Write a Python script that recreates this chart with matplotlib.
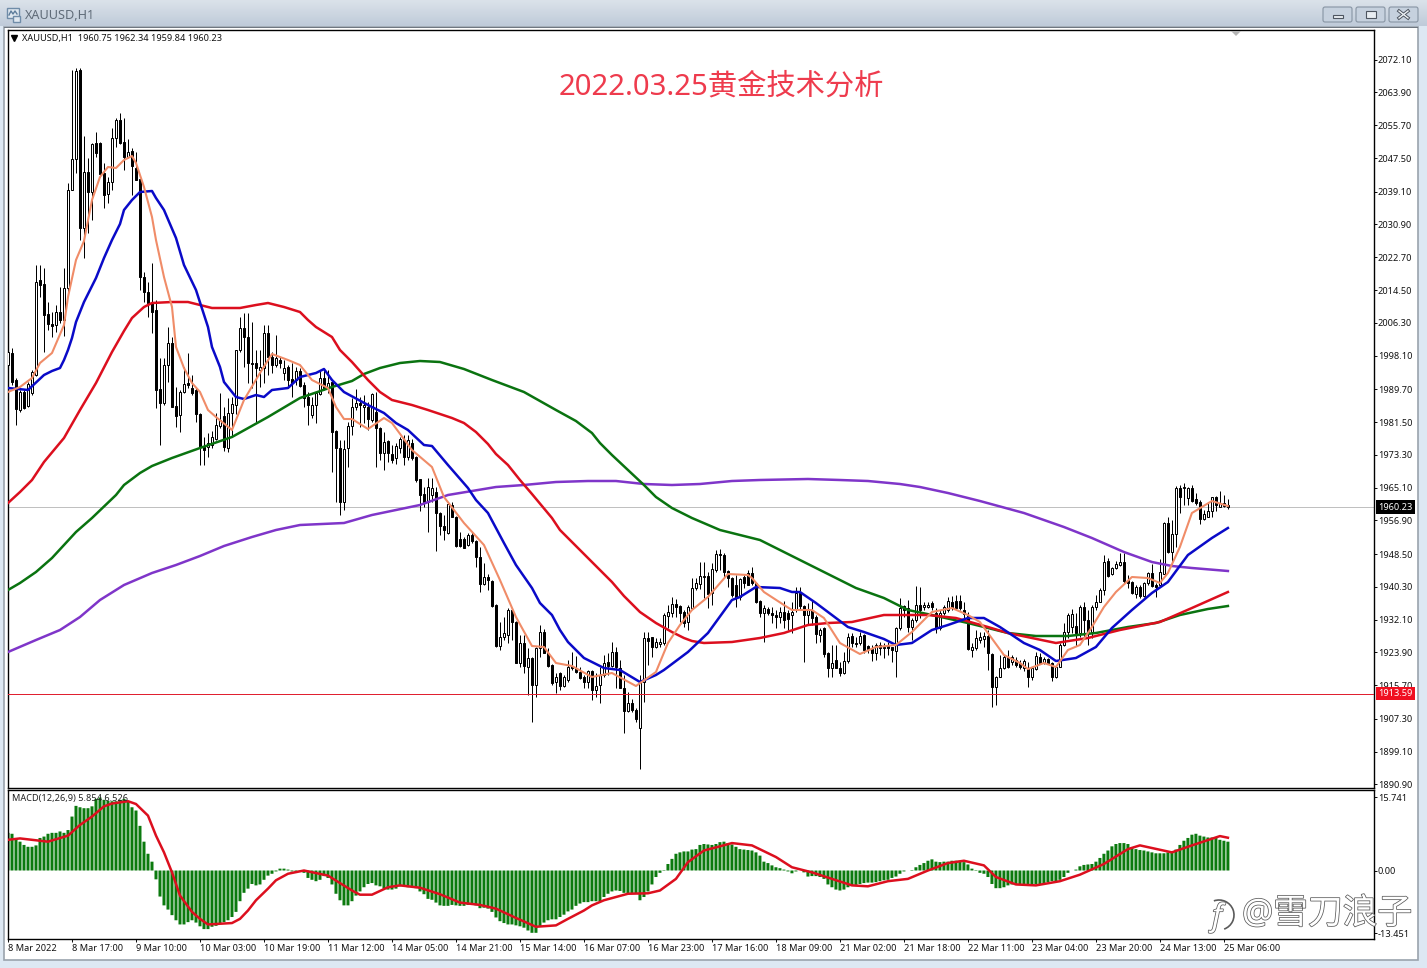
import matplotlib
matplotlib.use("Agg")
import matplotlib.pyplot as plt
import matplotlib.patheffects as pe
from matplotlib.patches import Rectangle, FancyBboxPatch, Arc, Polygon
from matplotlib.transforms import IdentityTransform
import numpy as np

plt.rcParams['font.family'] = ['Noto Sans', 'Noto Sans CJK SC', 'DejaVu Sans']

# hourly bars, one row of ten values per line
opens = [
    1995.8,1998.8,1992,1984.5,1989,1985.5,1988.8,1993.3,2017,2016,
    2008.5,2006,2005.8,2009,2007,2015,2039.5,2047.3,2069.5,2030,
    2044,2039,2051.3,2051.3,2043.8,2038.5,2041.5,2052.5,2057,2051.5,
    2047.8,2049.3,2045,2042.3,2017.8,2014,2011.3,2009.5,1989.8,1986.3,
    1995.8,2001.3,1985.5,1983.3,1989,1991.3,1990,1989.5,1983.5,1975.3,
    1975.3,1975.8,1977.3,1980.5,1983,1975,1983.8,1985.8,1999.5,2005,
    2002.8,1996.3,1996.3,1994.5,1995,2003.8,1997.8,1995.8,1997,1993.8,
    1995.3,1992.3,1992,1994.3,1990.8,1987.8,1983.3,1985.8,1988.5,1992.5,
    1990,1991.5,1979.3,1975,1961.5,1975,1980.5,1985.3,1986.3,1985.3,
    1985.3,1982,1984,1980,1973.8,1976.8,1973.5,1972.5,1975,1977,
    1972.8,1976.3,1972.8,1967.3,1963.5,1961.5,1963.3,1964,1958.8,1955.5,
    1953.8,1960.8,1957.8,1952.3,1952.3,1950.8,1953.3,1951.8,1947.8,1941,
    1942.8,1941.8,1935.8,1925.5,1927.8,1928.3,1934.5,1931.5,1921.3,1926.3,
    1920.3,1922.5,1915.8,1925,1929,1923.8,1920.8,1916.5,1918.8,1915.5,
    1917,1920.5,1920,1919,1917.8,1916.5,1919.3,1914.5,1915.8,1918.3,
    1921.5,1920.5,1924,1920,1915,1909.3,1911.3,1909.5,1905,1916.5,
    1927.5,1927.8,1925.3,1926,1926.3,1933,1933.8,1936,1935.5,1934,
    1931.5,1935,1940,1941,1942.8,1943,1938.8,1944.5,1948.5,1948.3,
    1944.3,1942.5,1940.8,1937.8,1942.8,1943.8,1943.8,1941.3,1936.8,1933.8,
    1934.8,1933.8,1933.3,1932.8,1934,1933.8,1933.3,1934.5,1938.8,1935.5,
    1933.3,1934.5,1932.8,1928.3,1930,1923.8,1920,1922,1920,1918.8,
    1921.8,1928,1926.3,1926.3,1928.3,1925.5,1924.8,1923.8,1925.8,1925.3,
    1925.5,1925.3,1924.3,1930,1935.5,1935,1930.3,1932,1935.8,1935.3,
    1935.3,1936.3,1933.8,1930,1933.8,1934.5,1936.5,1936.8,1936.8,1934.5,
    1933,1924.5,1925,1927,1927.3,1928,1923.5,1915.3,1917.8,1920,
    1922.8,1921.5,1922,1921.3,1920,1920,1917.8,1919.8,1922.8,1921.3,
    1922.3,1921.3,1917.8,1920.3,1925.8,1929,1930.3,1930.5,1928.8,1935.3,
    1932,1929,1935.3,1936.5,1939.5,1946.8,1943.5,1945,1945.8,1946.5,
    1942,1941.5,1938.5,1940.3,1938,1941.3,1943.8,1940.8,1940.8,1943.5,
    1956.3,1949,1953.5,1965,1965,1962.5,1965,1962.3,1961.5,1957.3,
    1957.8,1959.3,1962.8,1960.3,1960.5,1960.75,
]
highs = [
    2000,2000,1992.5,1989.5,1989.5,1991.5,1994.5,2020.8,2020.8,2020,
    2011.5,2009,2010.8,2015.3,2020,2041.3,2069.5,2070,2070,2053,
    2047.5,2051.3,2054,2051.5,2046.3,2042.8,2055,2057.5,2058.8,2057.5,
    2052.3,2050,2049,2042.3,2019,2016.5,2021.3,2012,1997.5,1997.5,
    2005.3,2002.8,1990.3,1989.5,1995.3,1998.8,1993.3,1990,1983.8,1977.8,
    1978.8,1979.3,1983.8,1988.8,1985.3,1987.5,1987.8,1999.5,2007.8,2008.8,
    2008.8,2006.5,1999.5,1999.5,2005.8,2005.8,1999,2003.3,1997.8,1997,
    1995.8,1996.3,1995.3,1995,1991.5,1989,1987.8,1989,1994.5,1994.8,
    1994.5,1991.8,1979.5,1977,1977,1981.5,1987.5,1989.8,1987.8,1988.3,
    1986.5,1988.8,1989,1980.3,1979,1977,1975.8,1976.3,1977.8,1978.3,
    1978.3,1977.3,1973,1967.3,1965.3,1967.5,1967.5,1965.3,1959,1958.3,
    1961.3,1961.5,1958,1954,1952.8,1953.8,1954,1952,1950.3,1946.3,
    1943.5,1942,1936,1931.5,1932.8,1935,1935,1931.8,1928.3,1928.3,
    1925,1922.8,1925.3,1930.8,1929.8,1925,1921,1918.8,1919,1918.3,
    1922,1924,1923,1920.3,1918.3,1919.5,1919.5,1918.8,1920.3,1923.3,
    1923.8,1926.5,1925.3,1922,1918.3,1914,1912.3,1910,1918.3,1929,
    1929,1927.8,1927.5,1927.5,1933.8,1935.8,1937.8,1937.3,1935.8,1934.5,
    1935.8,1942.5,1942.5,1946.5,1946.5,1944,1946.3,1949.5,1949.8,1948.8,
    1944.5,1942.8,1943.3,1942.5,1943.3,1944.5,1945.3,1941.5,1937,1935.8,
    1935.3,1935.3,1934.5,1935.3,1936.8,1934.5,1936.5,1940.3,1940.3,1935.8,
    1936.3,1937,1933.3,1930,1930.3,1924,1925.8,1925.8,1921.5,1924,
    1928.8,1928.8,1927.8,1929,1928.5,1925.8,1925.8,1926.3,1926.5,1926.3,
    1926.5,1925.3,1930.3,1937.5,1935.8,1937,1932.5,1940.5,1940.3,1936.5,
    1936.5,1936.8,1935,1934.5,1935.8,1937.8,1938,1938.3,1938.3,1936.5,
    1934,1926.3,1929.5,1929,1929,1929.5,1923.8,1918,1923.3,1923.3,
    1924.5,1923.3,1922.8,1922,1922.3,1921.5,1920.3,1924,1923.8,1922.8,
    1922.5,1921.5,1920.8,1926.3,1931.3,1933.8,1934.8,1933.8,1935.8,1936.5,
    1934.5,1935.8,1938.3,1940,1948.3,1947.5,1945.3,1946.8,1948.8,1948.8,
    1943.3,1941.8,1940.8,1940.8,1941.5,1944,1946,1941.3,1947.3,1956.5,
    1957.8,1957,1965.5,1965.8,1966.3,1965.3,1965.8,1963.8,1962,1959.5,
    1961.3,1962.8,1963,1964.3,1963.3,1962.34,
]
lows = [
    1995,1990.8,1980.8,1984,1984.8,1985.3,1988.3,1993,2012.8,1999,
    2004.5,2002.8,2004,2006.3,2003,2013.3,2039.5,2043.8,2027,2022.5,
    2028.8,2032,2047.8,2042.8,2035,2036.3,2039.5,2050.3,2051,2044.5,
    2047.5,2038.3,2042,2014.5,2011.5,2007.8,2003.8,1985,1975.8,1985.8,
    1991.5,1985.3,1980.3,1979,1988.8,1990,1988.3,1981.5,1970.8,1970.8,
    1972.8,1975,1977,1980,1974.3,1974,1977.8,1983.5,1999,1995.3,
    1991.3,1990,1981.5,1990.3,1991.3,1993.3,1993.8,1995.3,1995,1992,
    1990,1987.8,1990.8,1990.3,1985.3,1980.8,1982.5,1981.3,1988.3,1989.5,
    1988.8,1969,1961.5,1958.3,1959.5,1970.3,1978.3,1984.5,1980.3,1981.3,
    1979.5,1981.5,1970.3,1972,1969.5,1971.5,1971.3,1971,1973.8,1970.8,
    1972,1972,1966.5,1959.3,1960.3,1954,1961.5,1949.3,1953.3,1952,
    1953.5,1957.8,1950.3,1950.3,1950,1950.5,1951.3,1945.3,1939,1940.8,
    1939.5,1935.3,1925.3,1924.5,1927,1926.3,1927,1921.3,1920.3,1918.8,
    1913.3,1906.5,1912.8,1922.8,1923.8,1920.3,1915.8,1913.8,1914.5,1915.3,
    1916.5,1919.5,1918.8,1917.3,1915,1915,1912,1912.8,1911.3,1917.8,
    1918.3,1920.3,1915,1915,1903.8,1909,1909,1906.5,1894.8,1911.5,
    1920.8,1922.8,1925,1925.3,1925.8,1930,1932.8,1932.8,1931.5,1930.3,
    1929.5,1935,1939.5,1939.8,1937.5,1935,1935.8,1944,1944.5,1942.8,
    1940.3,1937.8,1935.3,1937,1940,1940.8,1940.8,1936.3,1932.8,1926.5,
    1933.3,1931.3,1930,1931.3,1930,1929.5,1928.8,1934,1934.5,1921.5,
    1931,1930.8,1926.3,1926.5,1922.8,1917.8,1917.8,1920,1918,1918.5,
    1921.3,1925.3,1925.3,1925.8,1923.8,1923.8,1921.8,1922,1923.3,1922.5,
    1923.3,1921.5,1917.8,1929.5,1932.8,1929,1927,1931.5,1932.5,1934.5,
    1935,1934.5,1928.8,1929.5,1933.3,1934,1934.5,1934.5,1934.5,1932,
    1924.5,1922.8,1924.5,1926.3,1925.3,1919.5,1910.3,1910.8,1917.8,1919.8,
    1920,1920.8,1920.3,1919.8,1919.3,1915.3,1917,1919.5,1921,1921,
    1921,1916.8,1917.5,1920.3,1925.5,1927.5,1928.8,1925.5,1927.8,1927.5,
    1925.8,1927.5,1934.5,1936.5,1938.3,1942.8,1943.3,1944.8,1945.5,1941.3,
    1940,1938.5,1937.5,1937.5,1937.8,1940.8,1940.3,1937.8,1940.5,1943.5,
    1948.8,1945.8,1950.3,1958.8,1960.8,1960.8,1961.5,1960.8,1956,1957,
    1957.8,1957.8,1959.3,1960.3,1960.3,1959.84,
]
closes = [
    1999,1991.5,1984.8,1989,1985,1991,1994,2016.5,2015.8,2008.3,
    2006,2005.5,2009,2007,2015,2039.5,2047.3,2069.3,2030,2044,
    2039,2051,2048.8,2043.5,2038.3,2041.5,2052.5,2057,2051.3,2047.8,
    2049,2045.5,2042,2017.8,2014,2011.3,2009,1989.5,1986.3,1995.8,
    2001.3,1985.3,1983,1989,1991,1990.8,1988.8,1983.5,1975.3,1974.5,
    1976.3,1977.8,1980.8,1982,1975.3,1983.8,1986,1999.5,2005,2002.8,
    1996.3,1996,1995,1995.3,2003.8,1997.8,1995.8,1997.5,1996.3,1995,
    1992,1991.3,1994.3,1990.5,1987.5,1985.8,1985.8,1988.8,1992.5,1990,
    1991.3,1979,1975,1961.5,1974.8,1980.5,1985.3,1986.3,1985.8,1985.8,
    1982.3,1988.5,1980,1973.8,1976.5,1973.8,1972,1975.5,1977.3,1972.8,
    1977,1972.5,1967,1963.3,1961.5,1965.3,1965,1958.8,1955.5,1954.5,
    1961,1957.8,1950.5,1950.5,1950,1953.3,1951.8,1947.8,1941,1942.8,
    1942,1935.5,1925.5,1927.8,1928.8,1934.5,1931.5,1921.3,1926.3,1920.5,
    1922.5,1915.8,1925,1929,1923.8,1920.5,1916.3,1917.8,1915.5,1917.8,
    1920.3,1920,1919,1917.5,1916.5,1919.3,1914.5,1915.5,1918.3,1921.3,
    1920.5,1924,1920.3,1915,1909.3,1911.3,1909.5,1907.3,1916.5,1927.5,
    1926.8,1925.3,1926.5,1926.5,1933.3,1934,1936,1935.3,1933.8,1931.3,
    1935.3,1940,1941.3,1943,1943,1938.5,1944.8,1948.5,1948.3,1944,
    1942.5,1938.3,1937.5,1942.3,1941.3,1940.8,1941.3,1936.5,1933.8,1935,
    1933.8,1933.3,1932.8,1934,1932,1932.3,1934,1938.8,1935.5,1933.3,
    1934.5,1932.5,1928.5,1929.5,1923.5,1920,1921.3,1920,1918.8,1921.8,
    1927.8,1926.3,1926,1928,1924.5,1924.8,1923.8,1925.8,1925,1925,
    1925,1924.5,1930,1935,1934.5,1930.3,1932,1935.8,1934.5,1935.8,
    1935.8,1935.3,1930,1933.8,1935.3,1936.8,1935,1935,1935,1933.5,
    1924.8,1925.3,1927.5,1927.8,1928,1923.8,1915.3,1917.8,1920,1922.8,
    1920.3,1922.8,1920.8,1920.3,1921.8,1917.8,1920,1923,1921.3,1922.3,
    1921.3,1917.8,1920.3,1925.8,1929,1933.3,1933.5,1928.8,1935.3,1932,
    1929,1935.3,1936.5,1939.5,1946.5,1943,1945,1946,1946.5,1941.8,
    1941.3,1938.8,1940.3,1938,1941.3,1943.8,1940.5,1940.3,1944,1956.3,
    1949,1953.5,1965,1962.8,1965.3,1965,1961.8,1961.3,1957.3,1958.5,
    1959.3,1962.8,1960.8,1961.3,1961.3,1960.23,
]

fast_bars = [0,3,6,8,11,14,15,17,19,21,23,25,27,29,31,32,34,36,37,39,41,42,44,46,48,50,52,56,59,63,66,70,73,76,80,82,84,86,90,94,96,101,106,109,114,119,123,127,131,134,137,141,146,151,157,162,165,168,171,175,180,185,186,189,194,196,201,204,208,213,217,222,226,231,236,240,243,245,249,253,255,259,262,265,268,271,274,277,281,285,288,290,293,296,301,305]
fast_ma = [1989,1990.25,1992.5,1996.25,1998.75,2005.75,2012.75,2022,2026.75,2037,2042.75,2045.25,2045,2047,2048,2046.25,2040.25,2032.75,2027,2017.75,2010.25,2000.25,1995,1991.25,1989,1984.5,1982.75,1979.5,1987,1993.75,1998.5,1997,1995.75,1992,1990,1985.25,1982.25,1982.25,1979.75,1982.5,1981.25,1974.5,1970.25,1962.75,1956.25,1950.75,1942,1932.75,1925.5,1925.25,1921.25,1920.5,1917.75,1918.75,1915.5,1919,1926.25,1930.75,1934.5,1937.75,1943.5,1943.25,1942.5,1939,1935.75,1934.5,1934.5,1932.5,1926.25,1923.5,1925.25,1925.75,1929,1934,1935,1933.25,1931.5,1928.75,1923.25,1921.25,1919.75,1921.25,1920.25,1924.5,1925.75,1930.25,1935.25,1939,1942.75,1942.5,1941.25,1943.75,1950.25,1958.75,1961.75,1960.5]

blue_bars = [0,5,9,11,13,14,15,16,17,19,22,24,26,28,29,31,33,36,37,39,42,44,47,50,51,53,54,56,57,59,62,64,66,70,73,77,79,81,84,90,94,97,100,104,106,110,115,117,120,122,124,127,131,133,136,138,140,142,144,149,153,158,162,164,170,175,181,183,187,193,196,198,202,205,210,214,219,222,226,231,235,240,244,248,254,258,262,267,272,276,281,286,290,295,301,305]
blue_ma = [1990,1989.5,1993.25,1994.25,1995,1997,1999.5,2002.5,2006.5,2011.5,2017.5,2022.5,2027,2031,2034.5,2037,2039,2039.25,2037.5,2034.5,2027.5,2020.75,2014.5,2005.25,2000.25,1995.25,1991.5,1989,1987.75,1987.25,1988.25,1987.75,1989.5,1990,1992.75,1993.75,1994.75,1992,1989,1985.75,1983.75,1981.25,1979.5,1975.75,1975.5,1970.75,1965,1962,1958.75,1955,1951.25,1945.75,1940,1936.25,1933.25,1929.5,1926.5,1924.5,1922.5,1920,1919.5,1916.5,1918.25,1919.5,1924,1928.75,1937,1937.75,1940.25,1940,1939,1939,1936.25,1934,1930.25,1929,1927.25,1925.75,1926.25,1929.5,1930.75,1932.5,1932.5,1930.25,1926.25,1924.5,1921.75,1922.5,1925.25,1930,1934.5,1938.75,1941.5,1948.25,1952.5,1955]

red_bars = [0,3,6,9,14,18,22,26,29,31,34,36,41,45,48,51,58,62,65,69,73,75,77,81,83,86,90,93,96,101,105,111,114,117,120,122,125,128,131,136,138,141,145,147,151,154,158,162,166,169,171,174,181,188,194,200,205,211,219,230,237,245,250,262,270,278,288,296,305]
red_ma = [1961.25,1964,1967,1971.5,1977.5,1984.5,1991.25,1999,2004.25,2007.5,2010.25,2011.25,2011.5,2011.5,2010.75,2010,2010,2010.75,2011.25,2010.25,2009,2007,2005.25,2002.75,1999.5,1996.5,1992,1989,1987,1985.75,1984.5,1982.5,1981.25,1979,1976,1973.5,1970.75,1967,1963.5,1957.5,1954.5,1951.5,1947.5,1945.5,1941.5,1938,1934,1931.25,1929,1927.5,1926.75,1926.25,1926.5,1927.5,1928.75,1930.75,1931.25,1931.5,1933.25,1933.25,1932.5,1930.25,1928.75,1926.25,1927.5,1929.5,1931.5,1935,1939]

green_bars = [0,3,7,11,14,17,21,27,29,33,36,41,48,56,65,73,81,86,89,93,98,103,108,114,121,129,133,137,142,146,148,151,155,159,162,166,171,178,188,194,202,212,219,225,231,240,245,250,257,265,272,280,287,293,300,305]
green_ma = [1939.5,1941.25,1944,1947.5,1950.75,1954,1957.5,1963.25,1965.75,1968.75,1970.5,1972.5,1975,1977.75,1982.75,1987.5,1990.25,1991.75,1993.5,1995,1996.25,1996.75,1996.5,1994.75,1992,1989,1986.75,1984.5,1981.75,1978.75,1976.25,1973.25,1969.5,1965.75,1962.75,1960,1957.5,1954.5,1952,1949,1945,1940,1937.5,1934.5,1933.25,1931.25,1930,1928.75,1928,1928,1928.75,1930.25,1931.25,1933.25,1934.75,1935.5]

purple_bars = [0,7,13,18,23,29,36,42,48,54,61,67,73,84,91,97,103,110,116,122,129,137,145,152,159,166,173,181,188,200,208,215,223,228,235,243,254,264,271,279,286,291,296,305]
purple_ma = [1924,1927,1929.5,1932.75,1937,1940.75,1943.75,1945.75,1948,1950.5,1952.75,1954.5,1955.75,1956.25,1958.25,1959.5,1960.75,1963.25,1964.25,1965.25,1965.75,1966.5,1966.75,1966.75,1966,1965.75,1966,1966.75,1967,1967.25,1967,1966.75,1966,1965.25,1963.75,1961.75,1958.75,1955.25,1952.5,1949,1946.5,1945.5,1945,1944.25]

macd_hist = [
    8.1,7.9,6.9,6.2,5.5,5.1,5.1,5.4,7.0,7.3,
    7.9,8.1,8.1,8.4,8.1,8.7,11.6,13.9,13.6,13.4,
    13.4,13.8,15.4,15.7,15.2,15.0,14.9,14.9,15.2,15.4,
    14.9,13.6,12.9,9.6,6.2,3.6,1.9,-1.9,-5.6,-7.5,
    -8.4,-9.6,-10.7,-11.6,-11.6,-11.1,-10.7,-11.2,-12.0,-12.6,
    -12.6,-12.1,-11.9,-11.4,-11.1,-10.7,-10.0,-8.9,-6.6,-4.8,
    -3.9,-2.9,-3.2,-3.0,-2.0,-1.1,-0.7,-0.2,0.4,0.4,
    0.2,-0.2,-0.5,-0.2,-0.5,-1.6,-2.0,-2.3,-2.0,-1.2,
    -1.6,-3.0,-5.0,-6.4,-7.5,-7.5,-6.6,-5.4,-4.5,-3.6,
    -2.9,-2.7,-3.2,-3.4,-3.9,-4.1,-4.1,-3.9,-3.4,-3.4,
    -3.6,-3.6,-3.8,-4.5,-5.1,-6.1,-6.3,-6.9,-7.5,-7.6,
    -7.6,-7.4,-7.5,-7.6,-7.6,-7.4,-7.1,-7.5,-8.1,-8.0,
    -8.2,-8.9,-10.1,-10.9,-11.3,-11.6,-11.6,-11.8,-12.0,-12.3,
    -12.9,-13.4,-13.4,-12.1,-11.2,-10.7,-10.5,-10.5,-10.0,-9.5,
    -8.8,-8.4,-7.6,-7.1,-6.8,-6.8,-6.6,-6.6,-6.6,-5.7,
    -5.0,-4.5,-4.3,-4.4,-4.8,-5.0,-5.0,-5.0,-6.4,-5.7,
    -4.5,-3.0,-1.4,-0.5,0.1,1.4,2.5,3.6,3.9,4.1,
    4.1,4.5,4.6,5.5,5.7,5.6,5.5,5.7,6.1,6.2,
    5.9,5.6,5.1,4.6,4.5,4.4,4.3,3.9,3.2,1.9,
    1.6,1.1,0.7,0.5,0.2,-0.2,-0.6,-0.2,0.0,-0.4,
    -1.3,-1.2,-1.2,-1.4,-1.8,-3.0,-3.6,-4.1,-4.3,-4.1,
    -3.6,-3.2,-3.1,-2.9,-2.7,-2.6,-2.6,-2.5,-2.3,-2.1,
    -2.0,-1.6,-1.3,-0.7,-0.2,0.0,0.1,0.7,1.2,1.6,
    2.1,2.4,1.9,1.8,1.9,1.9,2.1,2.1,2.1,1.8,
    1.3,0.4,-0.1,-0.5,-0.7,-1.4,-2.9,-3.8,-3.8,-3.6,
    -3.2,-3.0,-2.9,-2.9,-2.9,-2.9,-2.9,-2.9,-2.9,-2.9,
    -2.5,-2.3,-2.3,-2.0,-1.4,-0.5,0.0,0.2,0.9,1.2,
    1.3,1.4,1.9,2.7,3.6,4.3,5.2,5.7,5.9,5.9,
    5.7,5.0,4.6,4.4,4.3,4.1,3.9,3.7,3.7,3.7,
    3.9,4.1,4.5,5.5,6.4,7.0,7.7,7.9,7.5,7.3,
    7.1,7.1,7.0,6.6,6.4,6.2,
]
signal_bars = [0,3,6,10,15,18,21,24,26,30,32,35,37,39,41,43,46,48,50,56,58,60,62,65,67,70,74,80,86,88,91,95,98,103,108,113,118,122,127,132,137,140,144,146,149,155,160,163,167,170,174,178,181,186,192,196,201,206,211,215,220,225,230,235,239,244,247,252,257,263,268,274,280,283,291,296,303,305]
signal_line = [6.6,6.9,6.6,6.2,7.5,9.8,11.6,13.8,14.4,14.9,14.3,11.8,7.5,3.9,-0.4,-5.4,-8.9,-10.4,-11.6,-11.3,-10.4,-8.6,-6.4,-3.9,-2.1,-0.7,0,-1.1,-4.3,-5.2,-5.2,-3.6,-3.2,-3.7,-5.1,-6.9,-7.4,-8.2,-10.2,-12.1,-11.8,-10.4,-8.6,-7.5,-6.4,-5,-4.9,-4.3,-1.8,1.8,4.3,5.2,5.9,5.4,2.9,0.7,-0.4,-1.8,-3.2,-3.4,-2.3,-1.8,0,1.6,2.1,1.1,-1.4,-3,-3.2,-2.3,-0.9,1.4,4.6,5.4,3.9,5.4,7.4,7.05]

price_ticks = [2072.10,2063.90,2055.70,2047.50,2039.10,2030.90,2022.70,2014.50,2006.30,1998.10,1989.70,1981.50,1973.30,1965.10,1956.90,1948.50,1940.30,1932.10,1923.90,1915.70,1907.30,1899.10,1890.90]
macd_ticks = [15.741, 0.0, -13.451]
macd_tick_labels = ["15.741", "0.00", "-13.451"]
time_ticks = list(range(0, 305, 16))
time_labels = ["8 Mar 2022","8 Mar 17:00","9 Mar 10:00","10 Mar 03:00","10 Mar 19:00","11 Mar 12:00","14 Mar 05:00","14 Mar 21:00","15 Mar 14:00","16 Mar 07:00","16 Mar 23:00","17 Mar 16:00","18 Mar 09:00","21 Mar 02:00","21 Mar 18:00","22 Mar 11:00","23 Mar 04:00","23 Mar 20:00","24 Mar 13:00","25 Mar 06:00"]

last_price = 1960.23
level_price = 1913.59

W, H = 1427, 968
PX = 0.72  # one pixel in points at dpi 100
LABEL_SIZE = 6.6
MA_WIDTH = 1.8


def axes_from_pixels(fig, left, top, right, bottom):
    return fig.add_axes([left / W, 1 - bottom / H, (right - left) / W, (bottom - top) / H])


def draw_window(fig):
    bg = fig.add_axes([0, 0, 1, 1], zorder=-1)
    bg.axis("off")
    bg.add_patch(Rectangle((0, 0), W, H, fc="#dde8f3", ec="none"))
    gradient = np.linspace(0, 1, 30).reshape(-1, 1)
    cmap = matplotlib.colors.LinearSegmentedColormap.from_list("title", ["#dbe2ea", "#bfcbd9"])
    bg.imshow(gradient, extent=(0, W, 26, 0), cmap=cmap, aspect="auto", zorder=1)
    bg.set_xlim(0, W)
    bg.set_ylim(H, 0)
    bg.add_patch(Rectangle((4, 27), 1414, 933, fc="white", ec="#9aa3ad", lw=1.2, zorder=2))
    bg.add_patch(Rectangle((4, 26.5), 1414, 1.5, fc="#6f7780", ec="none", zorder=3))
    # min / max / close buttons
    for x in [1323, 1356, 1389]:
        bg.add_patch(FancyBboxPatch((x, 7), 29, 15, boxstyle="round,pad=0,rounding_size=2",
                                    fc="#c6d1de", ec="#8794a3", lw=0.8, zorder=3))
    bg.add_patch(Rectangle((1333, 15), 10, 3, fc="#e8edf2", ec="#4d5560", lw=0.8, zorder=4))
    bg.add_patch(Rectangle((1366, 11), 10, 7, fc="#e8edf2", ec="#4d5560", lw=0.8, zorder=4))
    for ys in ([11, 18], [18, 11]):
        bg.plot([1399, 1408], ys, color="#4d5560", lw=2.4, zorder=4)
        bg.plot([1399, 1408], ys, color="#eef2f6", lw=1.0, zorder=5)
    # chart icon in title bar
    bg.add_patch(Rectangle((7, 8), 12, 10, fc="#dfe8f0", ec="#6f8ca8", lw=1, zorder=4))
    bg.plot([9, 11, 13, 15, 17], [15, 11, 14, 11, 14], color="#5d7d9c", lw=1, zorder=5)
    bg.add_patch(Rectangle((13, 16), 7, 6, fc="#dfe8f0", ec="#6f8ca8", lw=1, zorder=4))
    bg.text(25, 15.5, "XAUUSD,H1", fontsize=9.1, color="#5f6b78", va="center", ha="left", zorder=5)
    return bg


def draw_candles(ax):
    x = np.arange(len(closes))
    o = np.array(opens)
    c = np.array(closes)
    ax.vlines(x, lows, highs, color="black", lw=PX, zorder=2)
    up = c >= o
    top = np.maximum(o, c)
    bottom = np.minimum(o, c)
    ax.bar(x[up], (top - bottom)[up], bottom=bottom[up], width=0.55, fc="white", ec="black", lw=PX, zorder=3)
    ax.bar(x[~up], (top - bottom)[~up], bottom=bottom[~up], width=0.55, fc="black", ec="black", lw=PX, zorder=3)


def style_axis(ax):
    for side in ax.spines:
        ax.spines[side].set_linewidth(1.0)
        ax.spines[side].set_color("black")
    ax.yaxis.tick_right()
    ax.tick_params(axis="y", length=2.0, width=PX, pad=1.2, labelsize=LABEL_SIZE, colors="#111111")


fig = plt.figure(figsize=(W / 100, H / 100), dpi=100, facecolor="#dde8f3")
draw_window(fig)

price_ax = axes_from_pixels(fig, 7.5, 30, 1373.5, 787.5)
price_ax.set_xlim(-0.125, 341.4)
price_ax.set_ylim(2087 - 787.5 / 4, 2087 - 30 / 4)
style_axis(price_ax)
price_ax.set_yticks(price_ticks)
price_ax.set_yticklabels([f"{v:.2f}" for v in price_ticks])
price_ax.set_xticks([])

price_ax.axhline(last_price, color="#c0c0c0", lw=PX, zorder=1)
price_ax.axhline(level_price, color="#e02030", lw=PX, zorder=5)
draw_candles(price_ax)
price_ax.plot(purple_bars, purple_ma, color="#7f35c9", lw=MA_WIDTH, zorder=4)
price_ax.plot(green_bars, green_ma, color="#0a7310", lw=MA_WIDTH, zorder=4)
price_ax.plot(red_bars, red_ma, color="#dc0f1e", lw=MA_WIDTH, zorder=4)
price_ax.plot(blue_bars, blue_ma, color="#0a0ac8", lw=MA_WIDTH, zorder=4)
price_ax.plot(fast_bars, fast_ma, color="#f08c68", lw=1.5, zorder=4)

price_ax.annotate(f"{last_price:.2f}", xy=(1, last_price), xycoords=price_ax.get_yaxis_transform(),
                  xytext=(5, 0), textcoords="offset pixels", va="center", ha="left", color="white",
                  fontsize=LABEL_SIZE, bbox=dict(fc="black", ec="none", pad=1.6), zorder=10)
price_ax.annotate(f"{level_price:.2f}", xy=(1, level_price), xycoords=price_ax.get_yaxis_transform(),
                  xytext=(5, 0), textcoords="offset pixels", va="center", ha="left", color="white",
                  fontsize=LABEL_SIZE, bbox=dict(fc="#f01020", ec="none", pad=1.6), zorder=10)

fig.text(22 / W, 1 - 38.5 / H, "XAUUSD,H1  1960.75 1962.34 1959.84 1960.23",
         fontsize=LABEL_SIZE, color="#111111", va="center", ha="left")
fig.text(559 / W, 1 - 87 / H, "2022.03.25黄金技术分析", fontsize=21.1, color="#ee3b4d",
         va="center", ha="left")
price_ax.plot([0.0048], [0.9892], marker="v", ms=4.5, color="black", transform=price_ax.transAxes, zorder=6)
# small scroll marker at the top of the chart
fig.add_artist(Polygon([(1231, H - 31), (1241, H - 31), (1236, H - 36)], closed=True, fc="#b5b5b5", ec="none",
                       transform=IdentityTransform()))

macd_ax = axes_from_pixels(fig, 7.5, 789.5, 1373.5, 939)
macd_ax.set_xlim(-0.125, 341.4)
macd_ax.set_ylim(-14.73, 17.42)
style_axis(macd_ax)
macd_ax.set_yticks(macd_ticks)
macd_ax.set_yticklabels(macd_tick_labels)
macd_ax.bar(np.arange(len(macd_hist)), macd_hist, width=0.75, color="#0b7a0e", snap=False, lw=0, zorder=2)
macd_ax.plot(signal_bars, signal_line, color="#dc0f1e", lw=MA_WIDTH, zorder=3)
macd_ax.set_xticks(time_ticks)
macd_ax.set_xticklabels(time_labels, ha="left")
macd_ax.tick_params(axis="x", length=2.0, width=PX, pad=1.5, labelsize=LABEL_SIZE, colors="#111111")
fig.text(12 / W, 1 - 798 / H, "MACD(12,26,9) 5.854 6.526", fontsize=LABEL_SIZE, color="#222222",
         va="center", ha="left")

# watermark in the lower right corner
edge = [pe.withStroke(linewidth=1.1, foreground="#5a5a5a")]
fig.text(1242 / W, 1 - 914.5 / H, "@雪刀浪子", fontsize=25, color="white", va="center", ha="left",
         path_effects=edge)
fig.text(1217 / W, 1 - 917 / H, "f", fontsize=22, style="italic", color="white", va="center", ha="center",
         path_effects=edge)
fig.add_artist(Arc((1219, H - 915), 30, 30, theta1=-70, theta2=110, ec="#5a5a5a", lw=1.2,
                   transform=IdentityTransform()))

fig.savefig("out.png", dpi=100, facecolor=fig.get_facecolor())
